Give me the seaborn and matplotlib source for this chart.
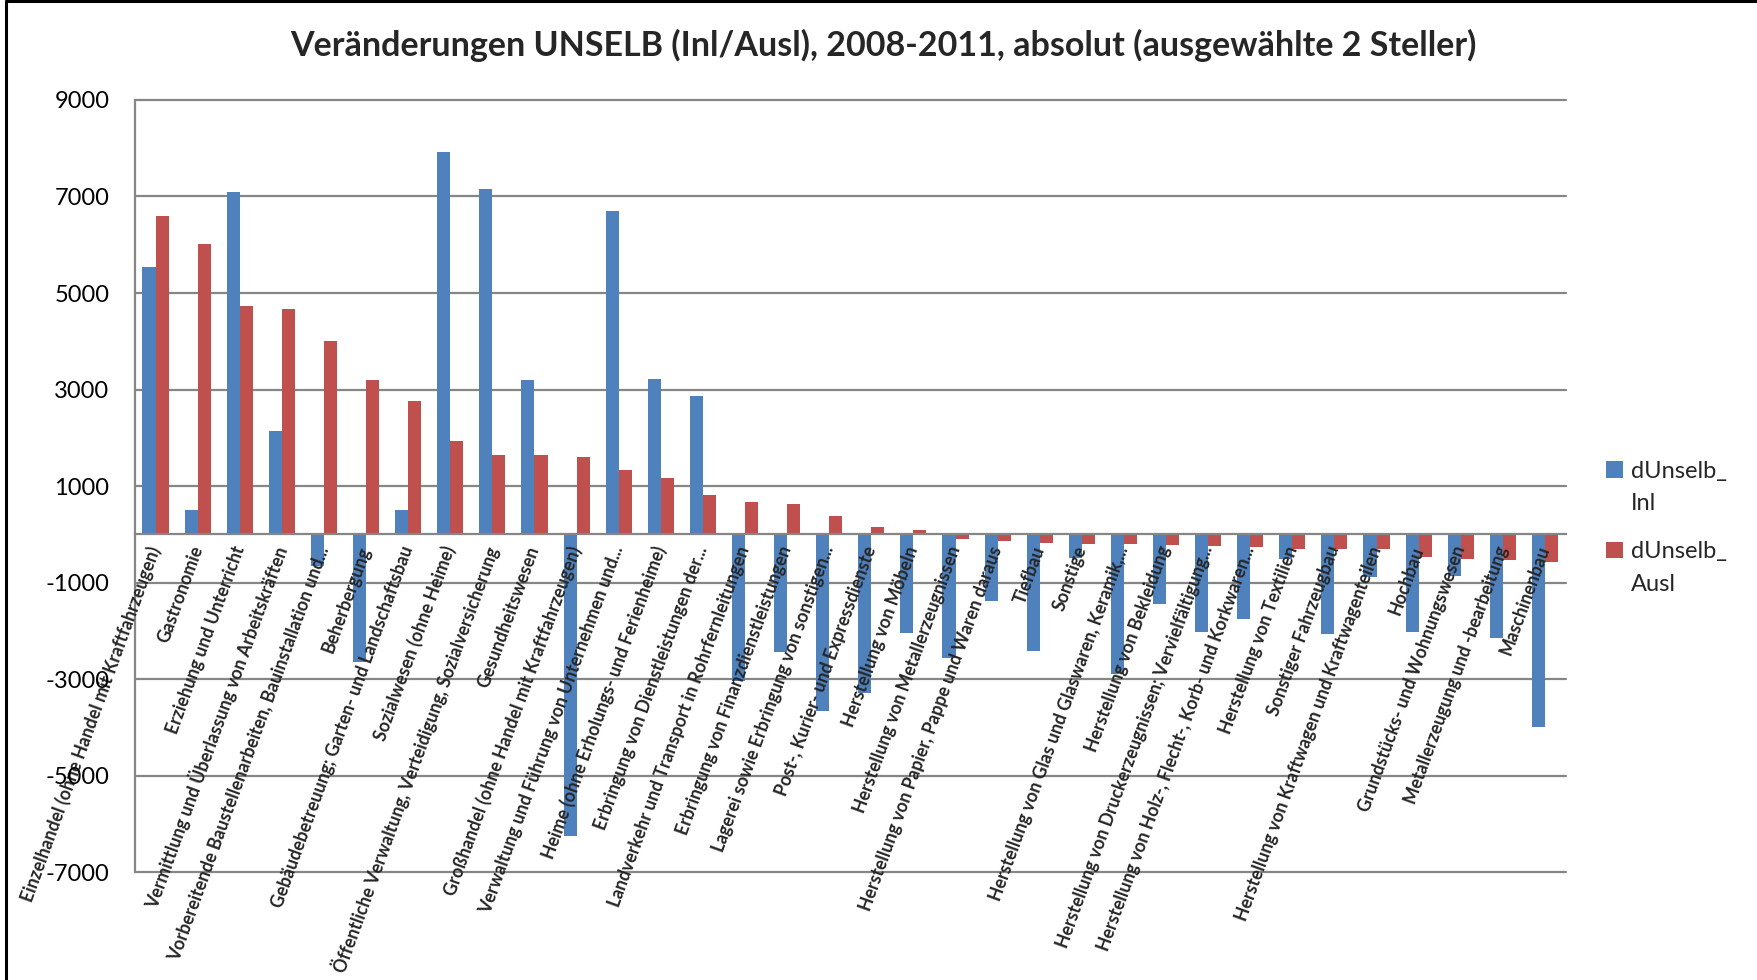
import matplotlib
matplotlib.use("Agg")
import matplotlib.pyplot as plt
import seaborn as sns
import pandas as pd
from matplotlib.lines import Line2D
from matplotlib.patches import Patch, Rectangle
from matplotlib.legend_handler import HandlerPatch

title = "Veränderungen UNSELB (Inl/Ausl), 2008-2011, absolut (ausgewählte 2 Steller)"

categories = [
    "Einzelhandel (ohne Handel mit Kraftfahrzeugen)",
    "Gastronomie",
    "Erziehung und Unterricht",
    "Vermittlung und Überlassung von Arbeitskräften",
    "Vorbereitende Baustellenarbeiten, Bauinstallation und...",
    "Beherbergung",
    "Gebäudebetreuung; Garten- und Landschaftsbau",
    "Sozialwesen (ohne Heime)",
    "Öffentliche Verwaltung, Verteidigung, Sozialversicherung",
    "Gesundheitswesen",
    "Großhandel (ohne Handel mit Kraftfahrzeugen)",
    "Verwaltung und Führung von Unternehmen und...",
    "Heime (ohne Erholungs- und Ferienheime)",
    "Erbringung von Dienstleistungen der...",
    "Landverkehr und Transport in Rohrfernleitungen",
    "Erbringung von Finanzdienstleistungen",
    "Lagerei sowie Erbringung von sonstigen...",
    "Post-, Kurier- und Expressdienste",
    "Herstellung von Möbeln",
    "Herstellung von Metallerzeugnissen",
    "Herstellung von Papier, Pappe und Waren daraus",
    "Tiefbau",
    "Sonstige",
    "Herstellung von Glas und Glaswaren, Keramik,...",
    "Herstellung von Bekleidung",
    "Herstellung von Druckerzeugnissen; Vervielfältigung...",
    "Herstellung von Holz-, Flecht-, Korb- und Korkwaren...",
    "Herstellung von Textilien",
    "Sonstiger Fahrzeugbau",
    "Herstellung von Kraftwagen und Kraftwagenteilen",
    "Hochbau",
    "Grundstücks- und Wohnungswesen",
    "Metallerzeugung und -bearbeitung",
    "Maschinenbau",
]

inl = [5540, 505, 7085, 2140, -650, -2655, 505, 7920, 7150, 3195,
       -6255, 6690, 3220, 2860, -3050, -2440, -3655, -3290, -2055, -2560,
       -1380, -2415, -497, -2890, -1448, -2028, -1759, -517, -2062, -876,
       -2021, -862, -2152, -4000]

ausl = [6600, 6020, 4735, 4660, 4008, 3200, 2757, 1928, 1652, 1645,
        1596, 1341, 1161, 822, 677, 636, 380, 145, 83, -103,
        -131, -190, -200, -200, -228, -234, -255, -297, -297, -310,
        -476, -503, -538, -566]

series_names = ["dUnselb_Inl", "dUnselb_Ausl"]
legend_labels = ["dUnselb_\nInl", "dUnselb_\nAusl"]
colors = ["#4F81BD", "#C0504D"]
yticks = [9000, 7000, 5000, 3000, 1000, -1000, -3000, -5000, -7000]

sns.set_theme(style="white")
plt.rcParams["font.family"] = ["Lato", "DejaVu Sans"]
plt.rcParams["axes.unicode_minus"] = False

df = pd.DataFrame({
    "Kategorie": categories * 2,
    "Wert": inl + ausl,
    "Serie": [series_names[0]] * len(categories) + [series_names[1]] * len(categories),
})

fig = plt.figure(figsize=(17.58, 9.8), dpi=100)
ax = fig.add_axes([134.5 / 1758, 1 - 872 / 980, (1566 - 134.5) / 1758, (872 - 100) / 980])

sns.barplot(data=df, x="Kategorie", y="Wert", hue="Serie", order=categories,
            hue_order=series_names, palette=colors, width=0.62, saturation=1,
            errorbar=None, legend=False, ax=ax, edgecolor="none", zorder=1)

ax.set_ylim(-7000, 9000)
ax.set_yticks(yticks)
ax.grid(False)
for v in yticks:
    ax.axhline(v, color="#868686", linewidth=1.6, zorder=0.5, clip_on=False)
for s in ["top", "right"]:
    ax.spines[s].set_visible(False)
ax.spines["left"].set_color("#868686")
ax.spines["left"].set_linewidth(1.6)
ax.spines["bottom"].set_position(("data", 0))
ax.spines["bottom"].set_color("#868686")
ax.spines["bottom"].set_linewidth(1.6)
ax.set_axisbelow(False)
ax.tick_params(axis="y", length=0, pad=18, labelsize=17, labelcolor="black")
ax.tick_params(axis="x", length=0, pad=9)
ax.set_xticks(range(len(categories)))
ax.set_xticklabels(categories, rotation=70, ha="right", va="center",
                   rotation_mode="anchor", fontsize=12.7, fontweight="bold")
ax.set_xlabel("")
ax.set_ylabel("")

fig.text(883 / 1758, 1 - 45 / 980, title, ha="center", va="center",
         fontsize=24.5, fontweight="bold")


class UpHandler(HandlerPatch):
    def create_artists(self, legend, orig_handle, xdescent, ydescent,
                       width, height, fontsize, trans):
        p = Rectangle((-xdescent, -ydescent + 0.78 * fontsize), width, height,
                      facecolor=orig_handle.get_facecolor(), edgecolor="none",
                      transform=trans)
        return [p]


handles = [Patch(facecolor=c, edgecolor="none") for c in colors]
leg = fig.legend(handles, legend_labels, loc="upper left",
                 bbox_to_anchor=(1606 / 1758, 1 - 461 / 980), frameon=False,
                 fontsize=17, handlelength=0.7, handleheight=0.7, handletextpad=0.35,
                 labelspacing=1.15, borderpad=0, borderaxespad=0,
                 handler_map={Patch: UpHandler()})
for t in leg.get_texts():
    t.set_linespacing(1.66)

# outer chart frame (left and top edges visible)
fig.add_artist(Line2D([6 / 1758, 6 / 1758], [0, 1 - 1 / 980], transform=fig.transFigure,
                      color="black", linewidth=2.2))
fig.add_artist(Line2D([6 / 1758, 1], [1 - 1 / 980, 1 - 1 / 980], transform=fig.transFigure,
                      color="black", linewidth=2.2))

fig.savefig("out.png", dpi=100, facecolor="white")
